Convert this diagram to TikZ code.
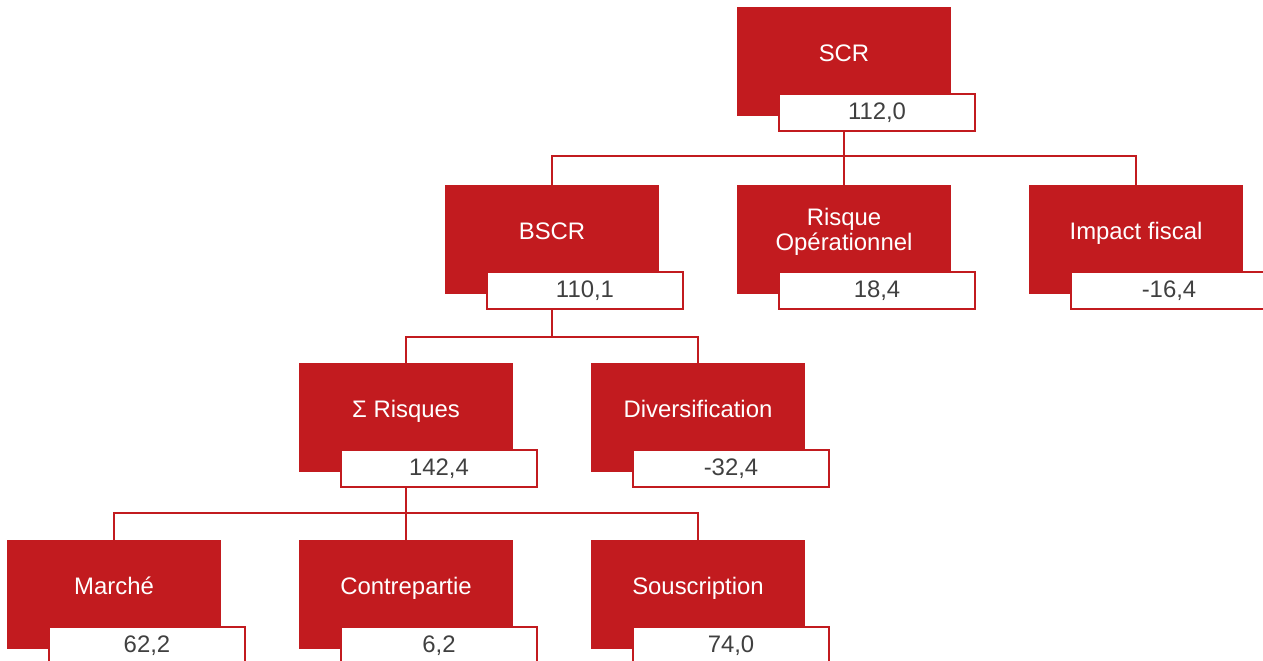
\documentclass[tikz,border=0pt]{standalone}
\usepackage{fontspec}
\setmainfont{Liberation Sans}
\usepackage{tikz}
\usetikzlibrary{positioning}
\definecolor{scrred}{HTML}{C21B1F}
\definecolor{valgray}{HTML}{404040}
\tikzset{
    redbox/.style={rectangle, minimum width=4.28cm, inner sep=0pt, align=center, text height=1.09cm, text depth=1.09cm, fill=scrred, text=white, font=\fontsize{13.6}{14.5}\selectfont},
    twoline/.style={text height=1.32cm, text depth=0.86cm},
    valbox/.style={rectangle, minimum width=3.92cm, minimum height=0.74cm, inner sep=0pt, align=center, draw=scrred, line width=1.1pt, fill=white, text=valgray, font=\fontsize{13.6}{14.2}\selectfont},
    link/.style={draw=scrred, line width=1.1pt}
}

\begin{document}
\begin{tikzpicture}[x=0.02cm, y=-0.02cm]
    \useasboundingbox (0,0) rectangle (1263,661);
    \clip (0,0) rectangle (1263,661);

    % connector levels
    \coordinate (bus1) at (0,156);
    \coordinate (bus2) at (0,337);
    \coordinate (bus3) at (0,513);

    % level 1
    \node (scr) [redbox] at (844, 61.5) {SCR};
    \node (scrval) [valbox] at (877, 112.5) {112,0};

    % level 2
    \node (bscr) [redbox] at (552, 239.5) {BSCR};
    \node (bscrval) [valbox] at (585, 290.5) {110,1};
    \node (op) [redbox, twoline] at (844, 239.5) {Risque\\Opérationnel};
    \node (opval) [valbox] at (877, 290.5) {18,4};
    \node (fisc) [redbox] at (1136, 239.5) {Impact fiscal};
    \node (fiscval) [valbox] at (1169, 290.5) {-16,4};

    % level 3
    \node (sum) [redbox] at (406, 417.5) {Σ Risques};
    \node (sumval) [valbox] at (439, 468.5) {142,4};
    \node (div) [redbox] at (698, 417.5) {Diversification};
    \node (divval) [valbox] at (731, 468.5) {-32,4};

    % level 4
    \node (mkt) [redbox] at (114, 594.5) {Marché};
    \node (mktval) [valbox] at (147, 645.5) {62,2};
    \node (cpt) [redbox] at (406, 594.5) {Contrepartie};
    \node (cptval) [valbox] at (439, 645.5) {6,2};
    \node (sous) [redbox] at (698, 594.5) {Souscription};
    \node (sousval) [valbox] at (731, 645.5) {74,0};

    \draw [link] (scr |- scrval.south) -- (scr |- bus1) -| (bscr.north);
    \draw [link] (scr |- bus1) -- (op.north);
    \draw [link] (scr |- bus1) -| (fisc.north);
    \draw [link] (bscr |- bscrval.south) -- (bscr |- bus2) -| (sum.north);
    \draw [link] (bscr |- bus2) -| (div.north);
    \draw [link] (sum |- sumval.south) -- (sum |- bus3) -| (mkt.north);
    \draw [link] (sum |- bus3) -- (cpt.north);
    \draw [link] (sum |- bus3) -| (sous.north);
\end{tikzpicture}
\end{document}
